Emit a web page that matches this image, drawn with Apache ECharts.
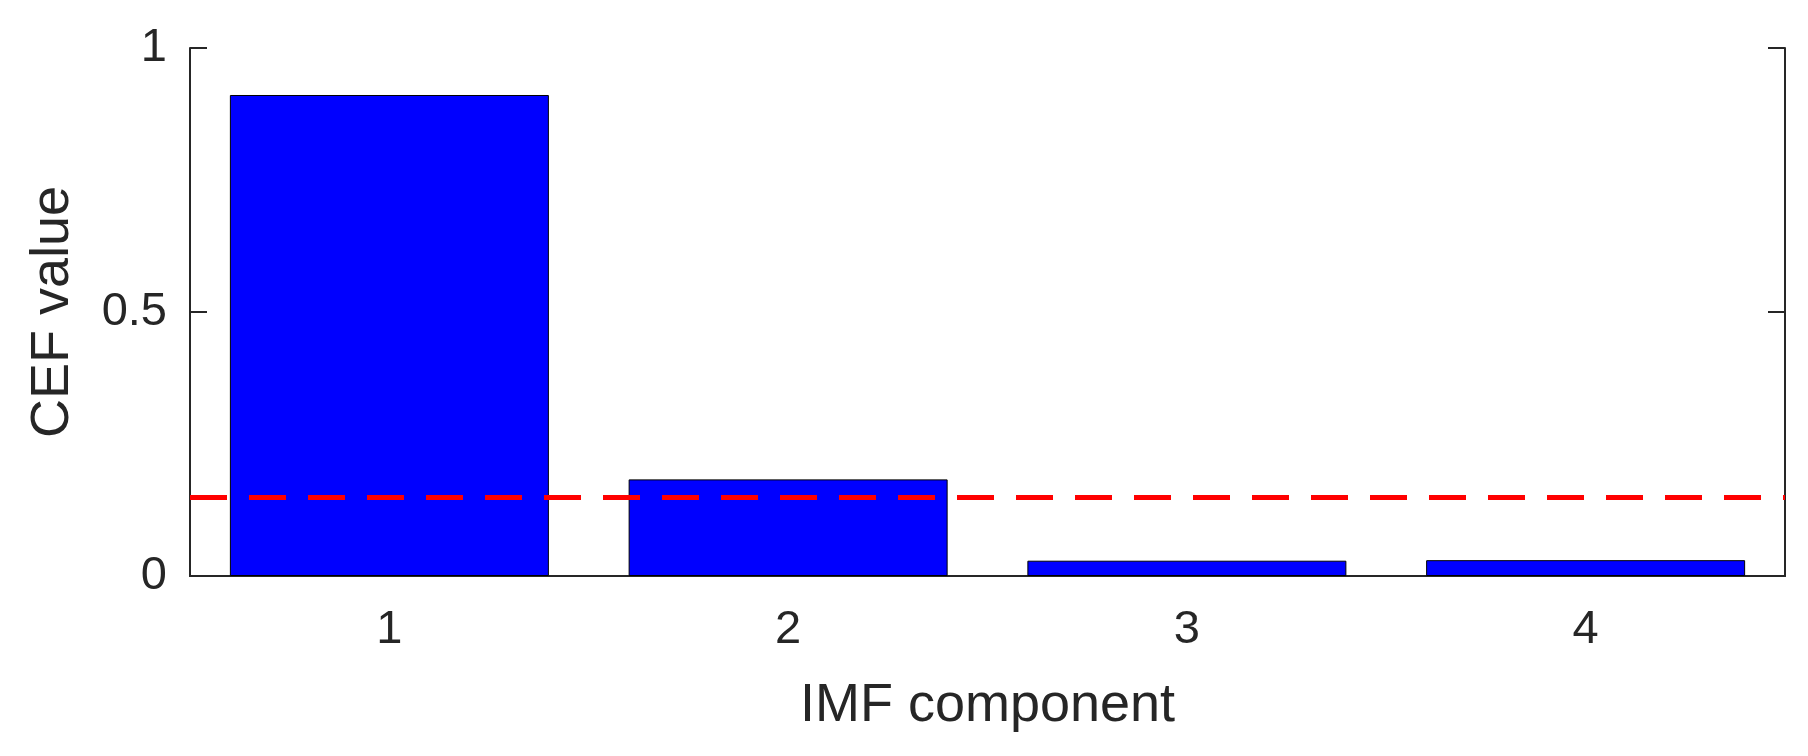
<!DOCTYPE html>
<html lang="en">
<head>
    <meta charset="UTF-8">
    <title>CEF value</title>
    <script type="text/javascript" src="https://cdn.jsdelivr.net/npm/echarts@6/dist/echarts.min.js"></script>
    <style>
        html, body { margin: 0; padding: 0; background: #fff; }
    </style>
</head>
<body>
<div id="myChart" style="width:1808px;height:756px;"></div>
<script type="text/javascript">
    var categories = ['1', '2', '3', '4'];       // IMF 分量
    var cefValues = [0.911, 0.183, 0.029, 0.030]; // CEF 值
    var threshold = 0.15;                         // 阈值（红色虚线）
    var yTicks = [0, 0.5, 1];

    var axisColor = '#262626';
    var font = 'Liberation Sans, Arial, Helvetica, sans-serif';

    var myChart = echarts.init(document.getElementById('myChart'));
    var option = {
        animation: false,
        grid: {
            left: 190,
            right: 23,
            top: 48,
            bottom: 180
        },
        xAxis: [
            {
                type: 'category',
                data: categories,
                position: 'bottom',
                name: 'IMF component',
                nameLocation: 'middle',
                nameGap: 103,
                nameTextStyle: { fontSize: 54, color: axisColor, fontFamily: font },
                axisLine: { lineStyle: { color: axisColor, width: 2 } },
                axisTick: { alignWithLabel: true, inside: true, length: 17, lineStyle: { color: axisColor, width: 2 } },
                axisLabel: { fontSize: 47, color: axisColor, fontFamily: font, margin: 31 }
            },
            {
                type: 'category',
                data: categories,
                position: 'top',
                axisLine: { lineStyle: { color: axisColor, width: 2 } },
                axisTick: { alignWithLabel: true, inside: true, length: 17, lineStyle: { color: axisColor, width: 2 } },
                axisLabel: { show: false }
            }
        ],
        yAxis: [
            {
                type: 'value',
                min: yTicks[0],
                max: yTicks[yTicks.length - 1],
                interval: 0.5,
                name: 'CEF value',
                nameLocation: 'middle',
                nameGap: 110,
                nameRotate: 90,
                nameTextStyle: { fontSize: 54, color: axisColor, fontFamily: font },
                axisLine: { show: true, lineStyle: { color: axisColor, width: 2 } },
                axisTick: { show: true, inside: true, length: 17, lineStyle: { color: axisColor, width: 2 } },
                axisLabel: { fontSize: 47, color: axisColor, fontFamily: font, margin: 23 },
                splitLine: { show: false }
            },
            {
                type: 'value',
                min: yTicks[0],
                max: yTicks[yTicks.length - 1],
                interval: 0.5,
                position: 'right',
                axisLine: { show: true, lineStyle: { color: axisColor, width: 2 } },
                axisTick: { show: true, inside: true, length: 17, lineStyle: { color: axisColor, width: 2 } },
                axisLabel: { show: false },
                splitLine: { show: false }
            }
        ],
        series: [
            {
                name: 'CEF',
                type: 'bar',
                barWidth: '80%',
                data: cefValues,
                itemStyle: {
                    color: '#0000ff',
                    borderColor: '#000000',
                    borderWidth: 1
                },
                markLine: {
                    silent: true,
                    symbol: ['none', 'none'],
                    label: { show: false },
                    lineStyle: {
                        color: '#ff0000',
                        width: 5,
                        type: [37, 22]
                    },
                    data: [{ yAxis: threshold }]
                }
            }
        ]
    };
    myChart.setOption(option);
</script>
</body>
</html>
